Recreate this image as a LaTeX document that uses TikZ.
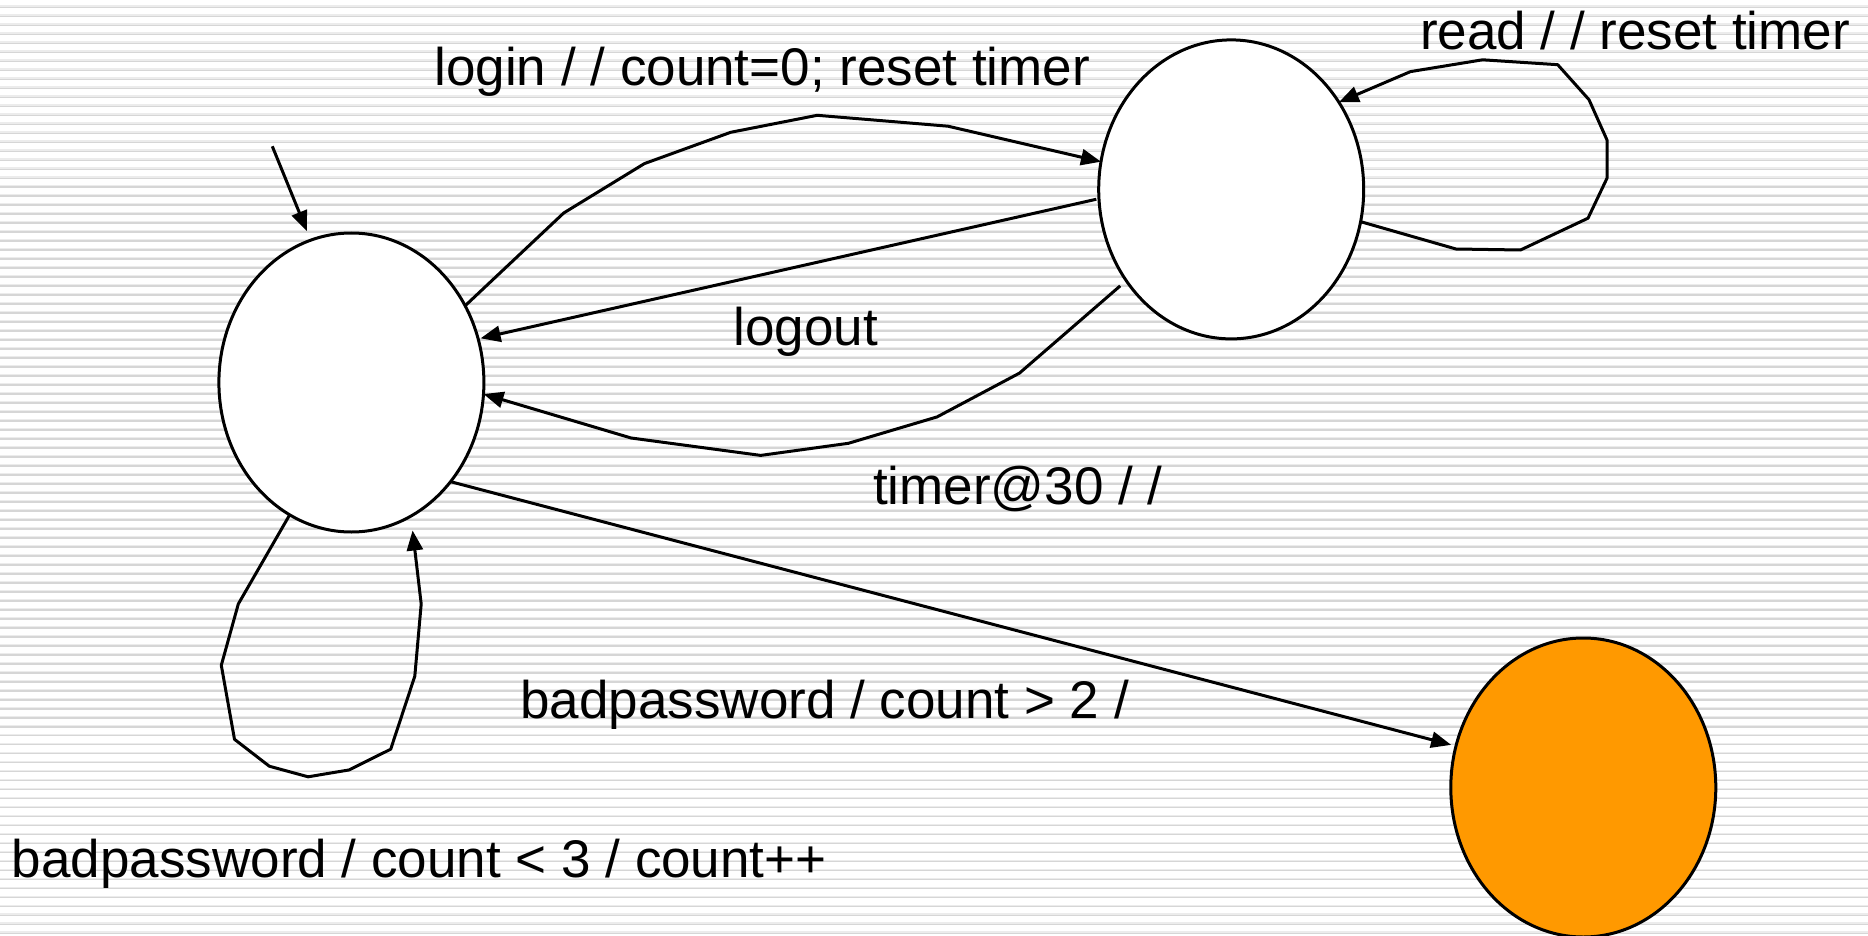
\documentclass[tikz,border=0pt]{standalone}
\usepackage{fontspec}
\setmainfont{Liberation Sans}
\usetikzlibrary{arrows.meta,shapes.geometric,calc}
\definecolor{stateorange}{RGB}{255,153,0}
\definecolor{ruleLight}{RGB}{236,236,236}
\definecolor{ruleDark}{RGB}{214,214,214}
\begin{document}
\begin{tikzpicture}[x=1pt,y=-1pt,
  state/.style={ellipse,draw=black,line width=3pt,fill=white,inner sep=0pt,outer sep=0pt,
                minimum width=265pt,minimum height=299pt},
  trans/.style={line width=3pt,line join=round,-{Triangle[length=20pt,width=16pt]}},
  lbl/.style={anchor=base west,inner sep=0pt,outer sep=0pt,font=\fontsize{53}{63}\selectfont}]

% lined paper background
\useasboundingbox (0,0) rectangle (1868,936);
\fill[white] (0,0) rectangle (1868,936);
\foreach \i in {0,...,103}{
  \fill[ruleLight] (0,{7+8.99*\i-1.5}) rectangle (1868,{7+8.99*\i-0.3});
  \fill[ruleDark]  (0,{7+8.99*\i-0.3}) rectangle (1868,{7+8.99*\i+1.3});
}

% states
\node[state] (idle)    at (351.4,382.5) {};
\node[state] (session) at (1231.2,189.4) {};
\node[state,fill=stateorange] (locked) at (1583.3,787.5) {};

% initial arrow
\coordinate (init) at (272.3,146.3);
\draw[trans,shorten >=10pt] (init) -- (idle.106);

% login
\draw[trans] (idle.34) -- (563.7,213) -- (644.4,163.6) -- (730.7,132.3) -- (817.2,115.3)
  -- (948,126.2) -- (session.168);

% logout
\draw[trans,shorten <=2.7pt,shorten >=2.5pt] (session.184) -- (idle.19);

% timeout
\draw[trans,shorten <=8pt] (session.221) -- (1019.5,373.1) -- (937.1,416.9) -- (848.4,443.3)
  -- (760.7,455.4) -- (631.1,438) -- (idle.-5);

% read self-loop
\draw[trans] (session.-14) -- (1456,249) -- (1520.5,250) -- (1588,218.2) -- (1607,178.2)
  -- (1607,140) -- (1589,99.7) -- (1557.7,64.7) -- (1482.6,59.8) -- (1410.5,71.6) -- (session.39);

% bad password, retry self-loop
\draw[trans,shorten >=14.5pt] (idle.-115) -- (238.3,604) -- (221.3,665.3) -- (234.5,739.3)
  -- (269.3,766.2) -- (308.1,776.8) -- (349.2,769.9) -- (390.7,749.2) -- (414.8,676.2)
  -- (421.2,604) -- (idle.-66);

% bad password, lock out
\draw[trans,shorten >=5pt] (idle.-45) -- (locked.162);

% transition labels
\node[lbl] (lblLogin)  at (434.5,85.5)  {login / / count=0; reset timer};
\node[lbl] (lblRead)   at (1420,49.5)   {read / / reset timer};
\node[lbl] (lblLogout) at (733.5,345)   {logout};
\node[lbl] (lblTimer)  at (873,504)     {timer@30 / /};
\node[lbl] (lblLock)   at (520.5,718)   {badpassword / count > 2 /};
\node[lbl] (lblRetry)  at (12,877.5)    {badpassword / count < 3 / count++};
\end{tikzpicture}
\end{document}
